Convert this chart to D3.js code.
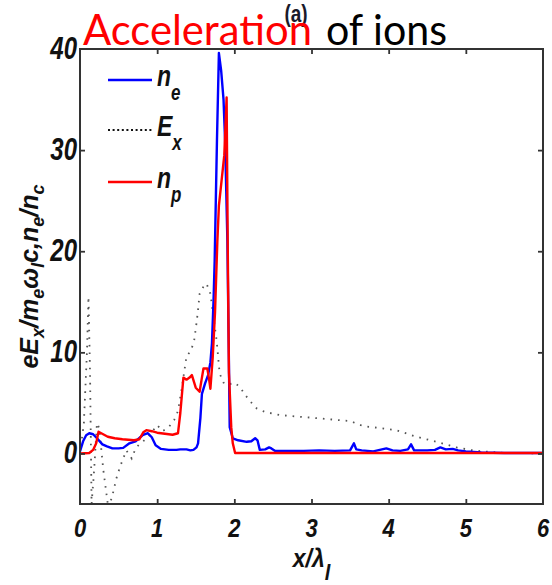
<!DOCTYPE html>
<html><head><meta charset="utf-8">
<script src="https://cdn.jsdelivr.net/npm/d3@7"></script>
<style>html,body{margin:0;padding:0;background:#fff;}svg{display:block;}</style>
</head><body>
<svg id="chart" width="552" height="585"></svg>
<script>
// ---- data ----
const xTicks = [0, 1, 2, 3, 4, 5, 6];
const yTicks = [0, 10, 20, 30, 40];
const neX = [0,0.04,0.08,0.12,0.17,0.22,0.29,0.35,0.42,0.5,0.56,0.64,0.72,0.81,0.88,0.93,0.98,1.05,1.15,1.25,1.3,1.38,1.43,1.47,1.51,1.53,1.56,1.58,1.62,1.66,1.69,1.71,1.73,1.745,1.76,1.775,1.8,1.83,1.86,1.88,1.895,1.91,1.925,1.94,1.98,2.05,2.16,2.22,2.27,2.3,2.33,2.4,2.45,2.48,2.53,2.7,2.9,3.1,3.3,3.5,3.55,3.58,3.65,3.8,3.97,4.05,4.15,4.25,4.29,4.33,4.5,4.6,4.67,4.74,4.83,4.9,5.0,5.2,5.5,6.0];
const neY = [0.2,1.2,1.8,2.0,1.9,1.5,0.9,0.7,0.5,0.5,0.55,1.0,1.2,1.8,2.0,1.6,0.8,0.45,0.35,0.35,0.4,0.4,0.3,0.35,0.6,1.0,3.5,5.9,6.9,7.75,9.0,10.9,15,19,25,31,39.6,37.8,35,31,26,21,12,2.6,1.5,1.3,1.15,1.2,1.5,1.3,0.35,0.4,0.6,0.5,0.25,0.25,0.25,0.3,0.25,0.3,1.0,0.4,0.3,0.2,0.5,0.3,0.25,0.4,0.9,0.3,0.3,0.35,0.6,0.4,0.45,0.3,0.2,0.1,0.05,0.05];
const npX = [0,0.12,0.17,0.21,0.24,0.3,0.36,0.45,0.55,0.7,0.77,0.82,0.86,0.93,1.0,1.1,1.2,1.27,1.3,1.34,1.38,1.42,1.45,1.5,1.55,1.58,1.6,1.65,1.67,1.69,1.72,1.75,1.78,1.8,1.835,1.87,1.9,1.915,1.93,1.96,1.98,2.01,2.5,6.0];
const npY = [0,0.05,0.35,1.0,2.15,1.9,1.65,1.5,1.4,1.3,1.4,2.1,2.3,2.2,2.05,1.95,1.85,2.0,4.0,7.5,7.3,7.5,7.75,6.5,6.1,7.5,8.4,8.4,7.5,6.4,9.5,14,21,24.5,27,29.5,35.2,20,8,2.6,1.0,0.05,0.05,0.05];
const exX = [0,0.05,0.09,0.11,0.13,0.15,0.18,0.22,0.25,0.3,0.36,0.41,0.47,0.52,0.6,0.67,0.72,0.78,0.87,0.95,1.0,1.07,1.15,1.22,1.27,1.32,1.38,1.44,1.48,1.51,1.53,1.55,1.6,1.64,1.69,1.73,1.77,1.81,1.86,1.92,2.0,2.07,2.14,2.2,2.29,2.4,2.59,2.8,2.98,3.2,3.5,3.67,3.9,4.1,4.36,4.62,4.88,5.05,5.22,5.5,6.0];
const exY = [0,3,10,15.5,8,-5,-2,3,2.5,-1.5,-5,-4.5,-2.5,-1.3,0.3,-0.5,0.5,1.0,1.5,2.3,2.8,2.2,2.6,3.3,4.2,6.5,9.6,10.2,11.2,12.9,14.2,15.8,16.5,16.8,15.8,13.5,11.2,7.9,7.0,6.8,7.0,6.6,5.8,5.2,4.45,4.1,3.8,3.65,3.55,3.4,3.2,2.7,2.5,2.3,1.65,1.15,0.6,0.35,0.2,0.05,0];

const svg = d3.select('#chart');
const L = 80, R = 543, T = 49, B = 504;
const x = d3.scaleLinear().domain([0, 6]).range([L, R]);
const y = d3.scaleLinear().domain([-5, 40]).range([B, T]);
const FONT = '"Liberation Sans", Arial, sans-serif';

svg.append('defs').append('clipPath').attr('id','clip')
  .append('rect').attr('x',L).attr('y',T).attr('width',R-L).attr('height',B-T);

const line = d3.line().x(d => x(d[0])).y(d => y(d[1]));
const zip = (a, b) => a.map((v, i) => [v, b[i]]);

// "(a)" label (drawn first so the title overlaps it as in the original)
svg.append('g').attr('transform','translate(296,22) scale(1,1.25)')
  .append('text').attr('font-family',FONT).attr('font-weight','bold').attr('font-size',19)
  .attr('text-anchor','middle').attr('fill','#1a1a2a').text('(a)');

const plot = svg.append('g').attr('clip-path','url(#clip)');
plot.append('path').datum(zip(exX, exY)).attr('d', line)
  .attr('fill','none').attr('stroke','#555').attr('stroke-width',1.8)
  .attr('stroke-dasharray','1.6 6');
plot.append('path').datum(zip(neX, neY)).attr('d', line)
  .attr('fill','none').attr('stroke','#0000ff').attr('stroke-width',2.4)
  .attr('stroke-linejoin','round');
plot.append('path').datum(zip(npX, npY)).attr('d', line)
  .attr('fill','none').attr('stroke','#ff0000').attr('stroke-width',2.4)
  .attr('stroke-linejoin','round');

// frame and ticks
const axisColor = '#333';
svg.append('rect').attr('x',L).attr('y',T).attr('width',R-L).attr('height',B-T)
  .attr('fill','none').attr('stroke',axisColor).attr('stroke-width',2);
const bottomAxis = d3.axisBottom(x).tickValues(xTicks.slice(1,-1)).tickSizeInner(-5).tickSizeOuter(0).tickFormat('');
const topAxis = d3.axisTop(x).tickValues(xTicks.slice(1,-1)).tickSizeInner(-5).tickSizeOuter(0).tickFormat('');
const leftAxis = d3.axisLeft(y).tickValues(yTicks.slice(0,-1)).tickSizeInner(-5).tickSizeOuter(0).tickFormat('');
const rightAxis = d3.axisRight(y).tickValues(yTicks.slice(0,-1)).tickSizeInner(-5).tickSizeOuter(0).tickFormat('');
[[bottomAxis,`translate(0,${B})`],[topAxis,`translate(0,${T})`],[leftAxis,`translate(${L},0)`],[rightAxis,`translate(${R},0)`]]
 .forEach(([ax,tr]) => {
   const g = svg.append('g').attr('transform', tr).call(ax);
   g.select('.domain').remove();
   g.selectAll('.tick line').attr('stroke',axisColor).attr('stroke-width',1.8);
 });

// tick labels (stretched bold italic like the original)
function stretchedText(px, py, sy, str, size, anchor) {
  return svg.append('g').attr('transform',`translate(${px},${py}) scale(1,${sy})`)
    .append('text').attr('font-family',FONT).attr('font-weight','bold').attr('font-style','italic')
    .attr('font-size',size).attr('text-anchor',anchor).attr('fill','#111').text(str);
}
xTicks.forEach(v => stretchedText(x(v), 537, 1.15, String(v), 22, 'middle'));
yTicks.forEach(v => stretchedText(77, y(v) + 10, 1.3, String(v), 24, 'end'));

// x label
const xl = svg.append('g').attr('transform',`translate(${(L+R)/2},567) scale(1,1.1)`)
  .append('text').attr('font-family',FONT).attr('font-weight','bold').attr('font-style','italic')
  .attr('font-size',23).attr('text-anchor','middle').attr('fill','#111');
xl.append('tspan').text('x/λ');
xl.append('tspan').attr('dy',12).attr('font-size',20).text('l');

// y label
const yl = svg.append('g').attr('transform',`translate(38,${(T+B)/2}) rotate(-90)`)
  .append('text').attr('font-family',FONT).attr('font-weight','bold').attr('font-style','italic')
  .attr('font-size',25).attr('text-anchor','middle').attr('fill','#111');
const yParts = [['eE',0],['x',1],['/m',0],['e',1],['ω',0],['l',1],['c,n',0],['e',1],['/n',0],['c',1]];
let prevSub = 0;
yParts.forEach(([s, sub]) => {
  const dy = sub ? 6 : (prevSub ? -6 : 0);
  yl.append('tspan').attr('dy', dy).attr('font-size', sub ? 18 : 25).text(s);
  prevSub = sub;
});

// legend
const legendItems = [
  {name:'n', sub:'e', color:'#0000ff', dash:null, yy:80},
  {name:'E', sub:'x', color:'#111', dash:'2 2.6', yy:130},
  {name:'n', sub:'p', color:'#ff0000', dash:null, yy:182}
];
legendItems.forEach(it => {
  const ln = svg.append('line').attr('x1',108).attr('x2',152).attr('y1',it.yy).attr('y2',it.yy)
    .attr('stroke',it.color).attr('stroke-width', it.dash ? 2 : 2.6);
  if (it.dash) ln.attr('stroke-dasharray', it.dash);
  const g = svg.append('g').attr('transform',`translate(157,${it.yy + 6}) scale(1,1.3)`);
  const t = g.append('text').attr('font-family',FONT).attr('font-weight','bold').attr('font-style','italic')
    .attr('font-size',23).attr('fill','#111');
  t.append('tspan').text(it.name);
  t.append('tspan').attr('dy',11).attr('font-size',17).text(it.sub);
});

// title
const TFONT = 'Lato, "Open Sans", "Noto Sans", sans-serif';
svg.append('text').attr('x',83).attr('y',45).attr('font-family',TFONT).attr('font-size',42)
  .attr('fill','#ff0000').attr('textLength',229).attr('lengthAdjust','spacingAndGlyphs').text('Acceleration');
svg.append('text').attr('x',326).attr('y',45).attr('font-family',TFONT).attr('font-size',42)
  .attr('fill','#000').attr('textLength',121).attr('lengthAdjust','spacingAndGlyphs').text('of ions');
</script>
</body></html>
